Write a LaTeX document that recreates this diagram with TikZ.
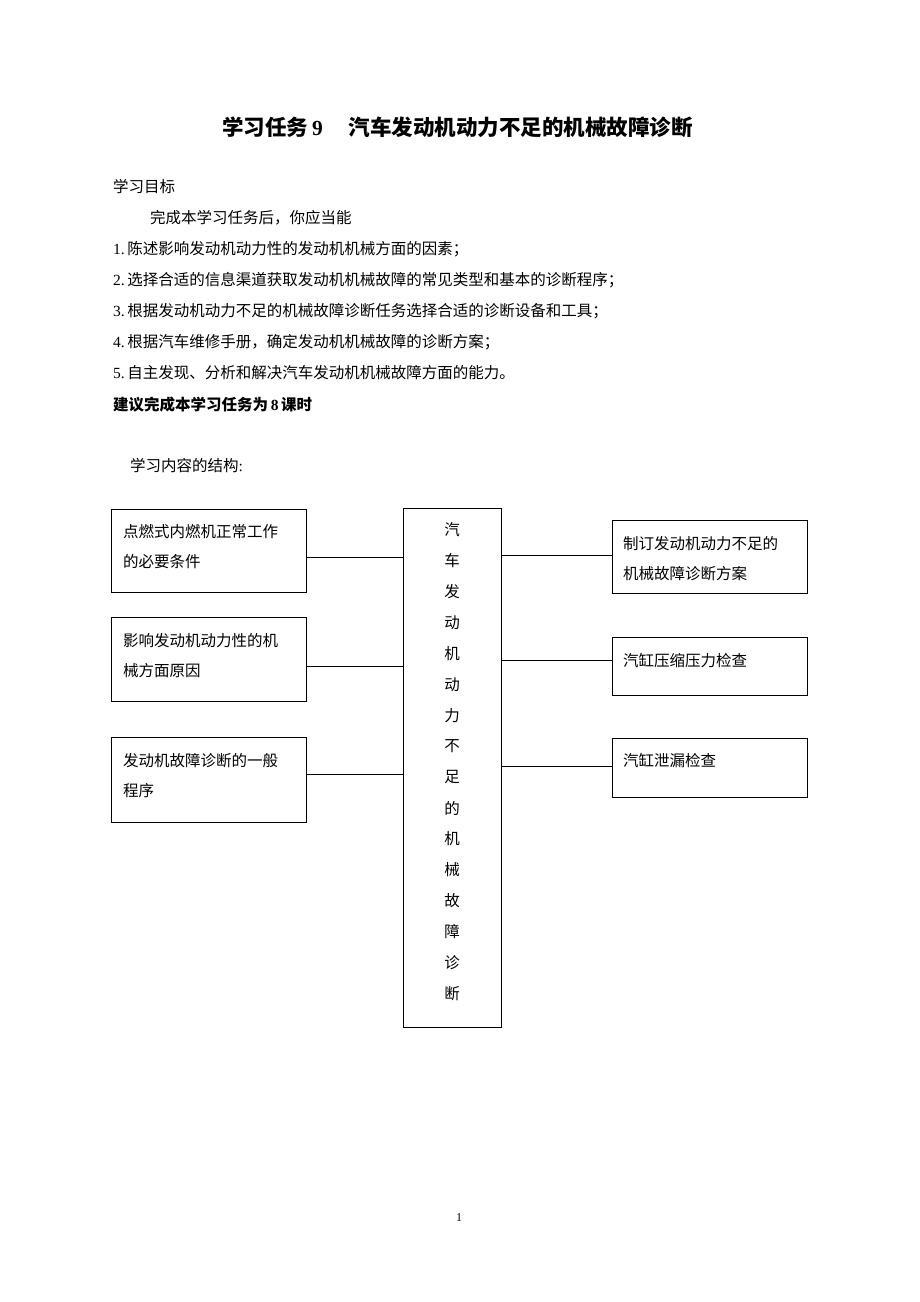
\documentclass[tikz,border=0pt]{standalone}
\usepackage{fontspec}
\setmainfont{Liberation Serif}
\newfontfamily\cjk{Noto Sans CJK SC}
\usetikzlibrary{positioning}
\tikzset{every node/.style={inner sep=0pt, align=left}}
\tikzset{txt/.style={anchor=west, font=\fontsize{15.5}{18}\selectfont}}
\tikzset{boldtxt/.style={anchor=west, font=\fontsize{15.5}{18}\selectfont\bfseries}}
\tikzset{box/.style={draw, line width=0.8pt, minimum width=195pt, anchor=north west}}
\tikzset{boxtxt/.style={anchor=north west, font=\fontsize{15.5}{30}\selectfont\cjk}}
\tikzset{line/.style={line width=0.8pt, black}}

\begin{document}
\begin{tikzpicture}[x=1pt, y=-1pt]
		% Page
		\useasboundingbox (0,0) rectangle (920,1302);
		\fill[white] (0,0) rectangle (920,1302);

		% Title
		\node[anchor=west, font=\fontsize{21.5}{24}\selectfont\bfseries] (title) at (222,127)
			{{\cjk 学习任务}\hspace{4pt}9\hspace{26pt}{\cjk 汽车发动机动力不足的机械故障诊断}};

		% Objectives
		\node[txt] (goal) at (113,187) {\cjk 学习目标};
		\node[txt] (intro) at (150,218) {\cjk 完成本学习任务后，你应当能};
		\node[txt] (g1) at (113,249) {1.\,{\cjk 陈述影响发动机动力性的发动机机械方面的因素；}};
		\node[txt] (g2) at (113,280) {2.\,{\cjk 选择合适的信息渠道获取发动机机械故障的常见类型和基本的诊断程序；}};
		\node[txt] (g3) at (113,311) {3.\,{\cjk 根据发动机动力不足的机械故障诊断任务选择合适的诊断设备和工具；}};
		\node[txt] (g4) at (113,342) {4.\,{\cjk 根据汽车维修手册，确定发动机机械故障的诊断方案；}};
		\node[txt] (g5) at (113,373) {5.\,{\cjk 自主发现、分析和解决汽车发动机机械故障方面的能力。}};
		\node[boldtxt] (hours) at (113,405) {{\cjk 建议完成本学习任务为}\,8\,{\cjk 课时}};

		\node[txt] (struct) at (130,466) {{\cjk 学习内容的结构}:};

		% Left boxes
		\node[box, minimum height=83pt] (l1) at (111,509) {};
		\node[boxtxt] (l1t) at (123,524) {点燃式内燃机正常工作\\的必要条件};
		\node[box, minimum height=84pt] (l2) at (111,617) {};
		\node[boxtxt] (l2t) at (123,633) {影响发动机动力性的机\\械方面原因};
		\node[box, minimum height=85pt] (l3) at (111,737) {};
		\node[boxtxt] (l3t) at (123,753) {发动机故障诊断的一般\\程序};

		% Centre box
		\node[box, minimum width=98pt, minimum height=519pt] (c) at (403,508) {};
		\foreach \ch [count=\i from 0] in {汽,车,发,动,机,动,力,不,足,的,机,械,故,障,诊,断}
			\node[font=\fontsize{15.5}{18}\selectfont\cjk] (ch\i) at (452,530+30.9*\i) {\ch};

		% Right boxes
		\node[box, minimum height=73pt] (r1) at (612,520) {};
		\node[boxtxt] (r1t) at (623,536) {制订发动机动力不足的\\机械故障诊断方案};
		\node[box, minimum height=58pt] (r2) at (612,637) {};
		\node[boxtxt] (r2t) at (623,653) {汽缸压缩压力检查};
		\node[box, minimum height=59pt] (r3) at (612,738) {};
		\node[boxtxt] (r3t) at (623,753) {汽缸泄漏检查};

		% Connectors
		\draw[line] (l1.east |- 0,557) -- (c.west |- 0,557);
		\draw[line] (l2.east |- 0,666) -- (c.west |- 0,666);
		\draw[line] (l3.east |- 0,774) -- (c.west |- 0,774);
		\draw[line] (c.east |- 0,555) -- (r1.west |- 0,555);
		\draw[line] (c.east |- 0,660) -- (r2.west |- 0,660);
		\draw[line] (c.east |- 0,766) -- (r3.west |- 0,766);

		% Page number
		\node[font=\fontsize{12}{14}\selectfont] (pg) at (459,1218) {1};
	\end{tikzpicture}
\end{document}
